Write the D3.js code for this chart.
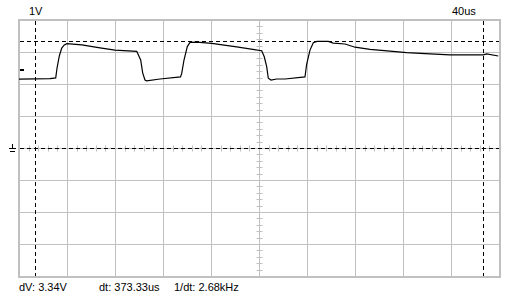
<!DOCTYPE html>
<html><head><meta charset="utf-8">
<script src="https://cdn.jsdelivr.net/npm/d3@7"></script>
<style>html,body{margin:0;padding:0;background:#fff;}svg{display:block;}</style>
</head><body>
<svg id="c" width="520" height="299"></svg>
<script>
// ---- data ----
const timeUs = [0,25.8,30.6,31.7,33.6,35.6,37.75,40,52.3,67.5,80,98.1,101.4,103.1,105,106.4,117.5,134.6,135.6,137.5,140.25,142.5,148.1,160.6,181.4,202.25,204.4,206.4,207.75,210,214.75,221.7,238.3,239.75,242.5,245.25,248.3,257.75,261.9,271.7,280,292.5,309.2,323.1,342.5,359.2,386.9,389.75,399.4];
const volts  = [2.15,2.17,2.19,2.5,2.875,3.125,3.22,3.26,3.22,3.13,3.06,3.02,2.75,2.34,2.125,2.10,2.156,2.22,2.33,2.75,3.17,3.30,3.31,3.27,3.16,3.04,2.85,2.54,2.18,2.125,2.156,2.156,2.22,2.625,3.06,3.29,3.33,3.33,3.28,3.25,3.15,3.08,3.03,2.98,2.94,2.91,2.91,2.94,2.875];
const timeCursors = [13.33, 386.67];
const voltCursors = [0, 3.34];
const triggerLevel = 2.44;
const groundLevel = 0;
const xDivs = d3.range(0, 401, 40);
const yDivs = d3.range(-4, 4.01, 1);
const voltsLabel = "1V";
const timeLabel = "40us";
const readouts = ["dV: 3.34V", "dt: 373.33us", "1/dt: 2.68kHz"];

// ---- chart ----
const svg = d3.select("#c");
const x = d3.scaleLinear().domain([0,400]).range([19,499]);
const y = d3.scaleLinear().domain([-4,4]).range([276,20]);
const grid = "#c0c0c0";

// grid
svg.append("g").selectAll("line").data(xDivs.slice(1,-1)).join("line")
  .attr("x1", d=>x(d)+0.5).attr("x2", d=>x(d)+0.5)
  .attr("y1", y(4)).attr("y2", y(-4))
  .attr("stroke", grid).attr("stroke-width",1);
svg.append("g").selectAll("line").data(yDivs.slice(1,-1)).join("line")
  .attr("y1", d=>y(d)+0.5).attr("y2", d=>y(d)+0.5)
  .attr("x1", x(0)).attr("x2", x(400))
  .attr("stroke", grid).attr("stroke-width",1);

// minor ticks on center axes
const minorY = d3.range(-4, 4.001, 0.2);
svg.append("g").selectAll("line").data(minorY).join("line")
  .attr("x1", x(200)-2.5).attr("x2", x(200)+3.5)
  .attr("y1", d=>Math.round(y(d))+0.5).attr("y2", d=>Math.round(y(d))+0.5)
  .attr("stroke", grid);
const minorX = d3.range(0, 400.001, 8);
svg.append("g").selectAll("line").data(minorX).join("line")
  .attr("y1", y(0)-2.5).attr("y2", y(0)+3.5)
  .attr("x1", d=>Math.round(x(d))+0.5).attr("x2", d=>Math.round(x(d))+0.5)
  .attr("stroke", grid);

// frame
svg.append("rect").attr("x", x(0)).attr("y", y(4))
  .attr("width", x(400)-x(0)+1).attr("height", y(-4)-y(4)+1)
  .attr("fill","none").attr("stroke","#c0c0c0").attr("stroke-width",2);

// cursors
svg.append("g").selectAll("line").data(voltCursors).join("line")
  .attr("x1", x(0)+1).attr("x2", x(400))
  .attr("y1", d=>Math.round(y(d))+0.5).attr("y2", d=>Math.round(y(d))+0.5)
  .attr("stroke","#000").attr("stroke-dasharray","4,3");
svg.append("g").selectAll("line").data(timeCursors).join("line")
  .attr("y1", y(4)+1).attr("y2", y(-4))
  .attr("x1", d=>Math.round(x(d))+0.5).attr("x2", d=>Math.round(x(d))+0.5)
  .attr("stroke","#000").attr("stroke-dasharray","4,3");

// trace
const pts = timeUs.map((t,i)=>[t, volts[i]]);
svg.append("path").datum(pts)
  .attr("d", d3.line().x(d=>x(d[0])).y(d=>y(d[1])))
  .attr("fill","none").attr("stroke","#000").attr("stroke-width",1.2);

// trigger marker
svg.append("rect").attr("x", x(0)+1).attr("y", Math.round(y(triggerLevel))-1)
  .attr("width",4).attr("height",2).attr("fill","#000");

// ground marker
const gy = Math.round(y(groundLevel));
const gm = svg.append("g").attr("stroke","#000").attr("stroke-width",1);
gm.append("line").attr("x1",12.5).attr("x2",12.5).attr("y1",gy-4).attr("y2",gy+1);
gm.append("line").attr("x1",9).attr("x2",16).attr("y1",gy+0.5).attr("y2",gy+0.5);
gm.append("line").attr("x1",10).attr("x2",15).attr("y1",gy+3.5).attr("y2",gy+3.5);

// labels
const font = "'Liberation Sans', Arial, sans-serif";
svg.append("text").attr("x",29).attr("y",15).text(voltsLabel)
  .attr("font-family",font).attr("font-size",11).attr("fill","#000");
svg.append("text").attr("x",452).attr("y",15).text(timeLabel)
  .attr("font-family",font).attr("font-size",11).attr("fill","#000");
const rx = [19, 99, 174];
svg.append("g").selectAll("text").data(readouts).join("text")
  .attr("x",(d,i)=>rx[i]).attr("y",291).text(d=>d)
  .attr("font-family",font).attr("font-size",11).attr("fill","#000");
</script>
</body></html>
